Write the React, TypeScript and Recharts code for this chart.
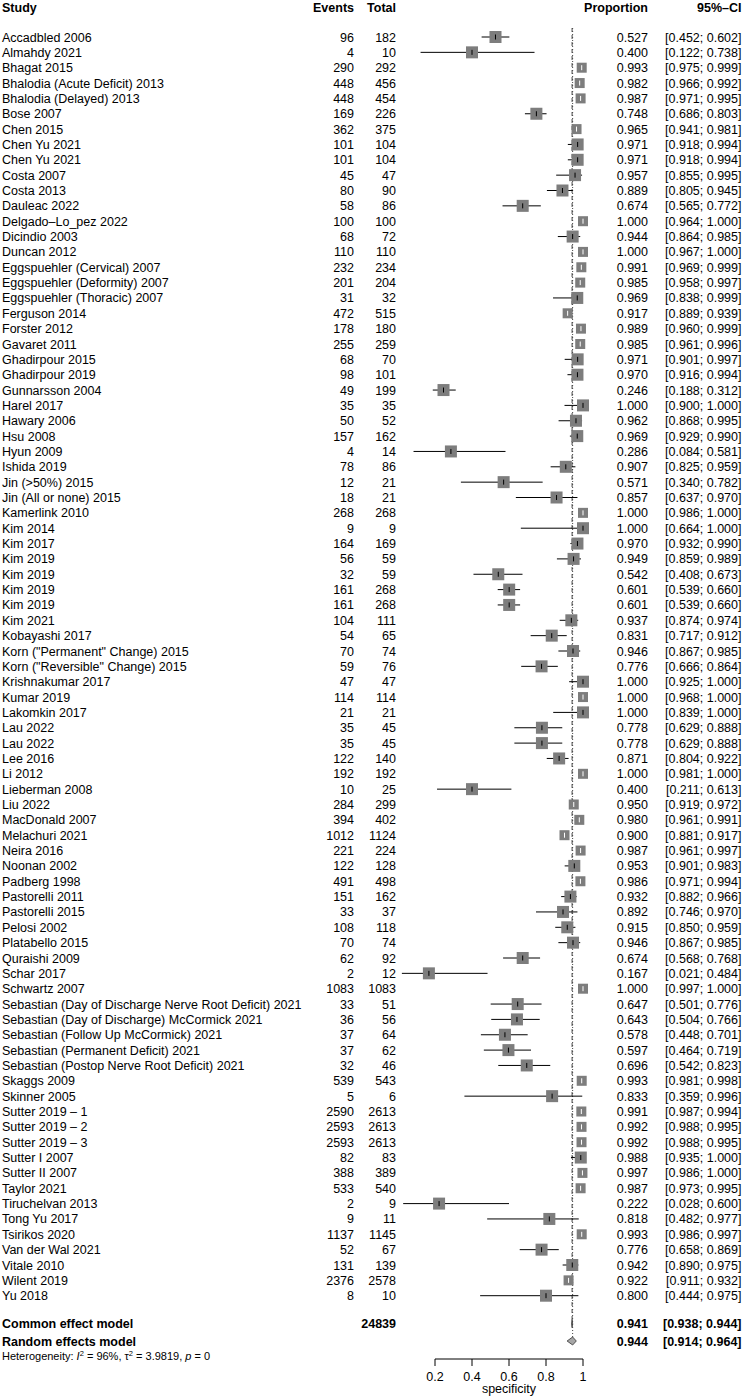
import React from 'react';
import { ComposedChart, Scatter, XAxis, YAxis, ErrorBar, ReferenceLine, Area } from 'recharts';

// ---------------- data ----------------
const studies: string[] = [
  'Accadbled 2006', 'Almahdy 2021', 'Bhagat 2015', 'Bhalodia (Acute Deficit) 2013', 'Bhalodia (Delayed) 2013',
  'Bose 2007', 'Chen 2015', 'Chen Yu 2021', 'Chen Yu 2021', 'Costa 2007',
  'Costa 2013', 'Dauleac 2022', 'Delgado–Lo_pez 2022', 'Dicindio 2003', 'Duncan 2012',
  'Eggspuehler (Cervical) 2007', 'Eggspuehler (Deformity) 2007', 'Eggspuehler (Thoracic) 2007', 'Ferguson 2014', 'Forster 2012',
  'Gavaret 2011', 'Ghadirpour 2015', 'Ghadirpour 2019', 'Gunnarsson 2004', 'Harel 2017',
  'Hawary 2006', 'Hsu 2008', 'Hyun 2009', 'Ishida 2019', 'Jin (>50%) 2015',
  'Jin (All or none) 2015', 'Kamerlink 2010', 'Kim 2014', 'Kim 2017', 'Kim 2019',
  'Kim 2019', 'Kim 2019', 'Kim 2019', 'Kim 2021', 'Kobayashi 2017',
  'Korn ("Permanent" Change) 2015', 'Korn ("Reversible" Change) 2015', 'Krishnakumar 2017', 'Kumar 2019', 'Lakomkin 2017',
  'Lau 2022', 'Lau 2022', 'Lee 2016', 'Li 2012', 'Lieberman 2008',
  'Liu 2022', 'MacDonald 2007', 'Melachuri 2021', 'Neira 2016', 'Noonan 2002',
  'Padberg 1998', 'Pastorelli 2011', 'Pastorelli 2015', 'Pelosi 2002', 'Platabello 2015',
  'Quraishi 2009', 'Schar 2017', 'Schwartz 2007', 'Sebastian (Day of Discharge Nerve Root Deficit) 2021', 'Sebastian (Day of Discharge) McCormick 2021',
  'Sebastian (Follow Up McCormick) 2021', 'Sebastian (Permanent Deficit) 2021', 'Sebastian (Postop Nerve Root Deficit) 2021', 'Skaggs 2009', 'Skinner 2005',
  'Sutter 2019 – 1', 'Sutter 2019 – 2', 'Sutter 2019 – 3', 'Sutter I 2007', 'Sutter II 2007',
  'Taylor 2021', 'Tiruchelvan 2013', 'Tong Yu 2017', 'Tsirikos 2020', 'Van der Wal 2021',
  'Vitale 2010', 'Wilent 2019', 'Yu 2018',
];

const events: number[] = [
  96, 4, 290, 448, 448, 169, 362, 101, 101, 45,
  80, 58, 100, 68, 110, 232, 201, 31, 472, 178,
  255, 68, 98, 49, 35, 50, 157, 4, 78, 12,
  18, 268, 9, 164, 56, 32, 161, 161, 104, 54,
  70, 59, 47, 114, 21, 35, 35, 122, 192, 10,
  284, 394, 1012, 221, 122, 491, 151, 33, 108, 70,
  62, 2, 1083, 33, 36, 37, 37, 32, 539, 5,
  2590, 2593, 2593, 82, 388, 533, 2, 9, 1137, 52,
  131, 2376, 8,
];

const totals: number[] = [
  182, 10, 292, 456, 454, 226, 375, 104, 104, 47,
  90, 86, 100, 72, 110, 234, 204, 32, 515, 180,
  259, 70, 101, 199, 35, 52, 162, 14, 86, 21,
  21, 268, 9, 169, 59, 59, 268, 268, 111, 65,
  74, 76, 47, 114, 21, 45, 45, 140, 192, 25,
  299, 402, 1124, 224, 128, 498, 162, 37, 118, 74,
  92, 12, 1083, 51, 56, 64, 62, 46, 543, 6,
  2613, 2613, 2613, 83, 389, 540, 9, 11, 1145, 67,
  139, 2578, 10,
];

const proportions: number[] = [
  0.527, 0.400, 0.993, 0.982, 0.987, 0.748, 0.965, 0.971, 0.971, 0.957,
  0.889, 0.674, 1.000, 0.944, 1.000, 0.991, 0.985, 0.969, 0.917, 0.989,
  0.985, 0.971, 0.970, 0.246, 1.000, 0.962, 0.969, 0.286, 0.907, 0.571,
  0.857, 1.000, 1.000, 0.970, 0.949, 0.542, 0.601, 0.601, 0.937, 0.831,
  0.946, 0.776, 1.000, 1.000, 1.000, 0.778, 0.778, 0.871, 1.000, 0.400,
  0.950, 0.980, 0.900, 0.987, 0.953, 0.986, 0.932, 0.892, 0.915, 0.946,
  0.674, 0.167, 1.000, 0.647, 0.643, 0.578, 0.597, 0.696, 0.993, 0.833,
  0.991, 0.992, 0.992, 0.988, 0.997, 0.987, 0.222, 0.818, 0.993, 0.776,
  0.942, 0.922, 0.800,
];

const lowerCI: number[] = [
  0.452, 0.122, 0.975, 0.966, 0.971, 0.686, 0.941, 0.918, 0.918, 0.855,
  0.805, 0.565, 0.964, 0.864, 0.967, 0.969, 0.958, 0.838, 0.889, 0.960,
  0.961, 0.901, 0.916, 0.188, 0.900, 0.868, 0.929, 0.084, 0.825, 0.340,
  0.637, 0.986, 0.664, 0.932, 0.859, 0.408, 0.539, 0.539, 0.874, 0.717,
  0.867, 0.666, 0.925, 0.968, 0.839, 0.629, 0.629, 0.804, 0.981, 0.211,
  0.919, 0.961, 0.881, 0.961, 0.901, 0.971, 0.882, 0.746, 0.850, 0.867,
  0.568, 0.021, 0.997, 0.501, 0.504, 0.448, 0.464, 0.542, 0.981, 0.359,
  0.987, 0.988, 0.988, 0.935, 0.986, 0.973, 0.028, 0.482, 0.986, 0.658,
  0.890, 0.911, 0.444,
];

const upperCI: number[] = [
  0.602, 0.738, 0.999, 0.992, 0.995, 0.803, 0.981, 0.994, 0.994, 0.995,
  0.945, 0.772, 1.000, 0.985, 1.000, 0.999, 0.997, 0.999, 0.939, 0.999,
  0.996, 0.997, 0.994, 0.312, 1.000, 0.995, 0.990, 0.581, 0.959, 0.782,
  0.970, 1.000, 1.000, 0.990, 0.989, 0.673, 0.660, 0.660, 0.974, 0.912,
  0.985, 0.864, 1.000, 1.000, 1.000, 0.888, 0.888, 0.922, 1.000, 0.613,
  0.972, 0.991, 0.917, 0.997, 0.983, 0.994, 0.966, 0.970, 0.959, 0.985,
  0.768, 0.484, 1.000, 0.776, 0.766, 0.701, 0.719, 0.823, 0.998, 0.996,
  0.994, 0.995, 0.995, 1.000, 1.000, 0.995, 0.600, 0.977, 0.997, 0.869,
  0.975, 0.932, 0.975,
];

const commonModel = { est: 0.941, lo: 0.938, hi: 0.944 };
const randomModel = { est: 0.944, lo: 0.914, hi: 0.964 };
const totalParticipants = 24839;
const heterogeneity = { i2: '96%', tau2: '3.9819', p: '0' };
const xTicks: number[] = [0.2, 0.4, 0.6, 0.8, 1];
const xLabel = 'specificity';
const headers = { study: 'Study', events: 'Events', total: 'Total', prop: 'Proportion', ci: '95%–CI' };

// ---------------- layout ----------------
const W = 742;
const H = 1396;
const AXIS_H = 37;
const PLOT_H = H - AXIS_H;
const ROW_PX = 15.35;
const FIRST_ROW_PX = 37;
const PX_ZERO = 398;
const PX_PER_UNIT = 185;
const xDomain: [number, number] = [-PX_ZERO / PX_PER_UNIT, (W - PX_ZERO) / PX_PER_UNIT];
const yMin = -FIRST_ROW_PX / ROW_PX;
const yMax = yMin + PLOT_H / ROW_PX;
const rowAt = (px: number) => (px - FIRST_ROW_PX) / ROW_PX;

const HEADER_Y = rowAt(7);
const COMMON_Y = rowAt(1323.7);
const RANDOM_Y = rowAt(1341);
const HET_Y = rowAt(1356.5);
const LINE_TOP_Y = rowAt(28);
const DIAMOND_HALF = 0.26;

const COL = { study: 2, events: 354, total: 396, prop: 648, ci: 741.5 };
const FONT = '"Liberation Sans", Arial, Helvetica, sans-serif';
const FS = 12.5;
const SQUARE_FILL = '#7d7d7d';
const DIAMOND_FILL = '#a6a6a6';
const INSIDE_LIMIT = 0.054;

const fmt = (v: number) => v.toFixed(3);
const fmtCI = (lo: number, hi: number) => `[${fmt(lo)}; ${fmt(hi)}]`;

const studyData = studies.map((name, i) => ({
  x: proportions[i],
  y: i,
  err: [proportions[i] - lowerCI[i], upperCI[i] - proportions[i]],
  inside: upperCI[i] - lowerCI[i] < INSIDE_LIMIT,
}));
const outsideData = studyData.filter((d) => !d.inside);
const insideData = studyData.filter((d) => d.inside);

const diamond = (m: { est: number; lo: number; hi: number }, yc: number) => [
  { x: m.lo, band: [yc, yc] },
  { x: m.est, band: [yc - DIAMOND_HALF, yc + DIAMOND_HALF] },
  { x: m.hi, band: [yc, yc] },
];
const commonDiamond = diamond(commonModel, COMMON_Y);
const randomDiamond = diamond(randomModel, RANDOM_Y);

type LabelRow = { x: number; y: number; kind: 'header' | 'study' | 'common' | 'random' | 'het'; i?: number };
const labelRows: LabelRow[] = [
  { x: 0, y: HEADER_Y, kind: 'header' },
  ...studies.map((_, i) => ({ x: 0, y: i, kind: 'study' as const, i })),
  { x: 0, y: COMMON_Y, kind: 'common' },
  { x: 0, y: RANDOM_Y, kind: 'random' },
  { x: 0, y: HET_Y, kind: 'het' },
];

const T = (p: { x: number; y: number; anchor?: 'start' | 'end' | 'middle'; bold?: boolean; children: React.ReactNode; size?: number }) => (
  <text
    x={p.x}
    y={p.y}
    dy="0.36em"
    textAnchor={p.anchor || 'start'}
    fontFamily={FONT}
    fontSize={p.size || FS}
    fontWeight={p.bold ? 'bold' : 'normal'}
    fill="#000"
  >
    {p.children}
  </text>
);

function RowText(props: any) {
  const row: LabelRow = props.payload;
  const y = props.cy;
  if (!row || typeof y !== 'number') return <g />;
  if (row.kind === 'header') {
    return (
      <g>
        <T x={COL.study} y={y} bold>{headers.study}</T>
        <T x={COL.events} y={y} anchor="end" bold>{headers.events}</T>
        <T x={COL.total} y={y} anchor="end" bold>{headers.total}</T>
        <T x={COL.prop} y={y} anchor="end" bold>{headers.prop}</T>
        <T x={COL.ci} y={y} anchor="end" bold>{headers.ci}</T>
      </g>
    );
  }
  if (row.kind === 'study') {
    const i = row.i as number;
    return (
      <g>
        <T x={COL.study} y={y}>{studies[i]}</T>
        <T x={COL.events} y={y} anchor="end">{events[i]}</T>
        <T x={COL.total} y={y} anchor="end">{totals[i]}</T>
        <T x={COL.prop} y={y} anchor="end">{fmt(proportions[i])}</T>
        <T x={COL.ci} y={y} anchor="end">{fmtCI(lowerCI[i], upperCI[i])}</T>
      </g>
    );
  }
  if (row.kind === 'common') {
    return (
      <g>
        <T x={COL.study} y={y} bold>Common effect model</T>
        <T x={COL.total} y={y} anchor="end" bold>{totalParticipants}</T>
        <T x={COL.prop} y={y} anchor="end" bold>{fmt(commonModel.est)}</T>
        <T x={COL.ci} y={y} anchor="end" bold>{fmtCI(commonModel.lo, commonModel.hi)}</T>
      </g>
    );
  }
  if (row.kind === 'random') {
    return (
      <g>
        <T x={COL.study} y={y} bold>Random effects model</T>
        <T x={COL.prop} y={y} anchor="end" bold>{fmt(randomModel.est)}</T>
        <T x={COL.ci} y={y} anchor="end" bold>{fmtCI(randomModel.lo, randomModel.hi)}</T>
      </g>
    );
  }
  return (
    <text x={COL.study} y={y} dy="0.36em" fontFamily={FONT} fontSize={11} fill="#000">
      Heterogeneity: <tspan fontStyle="italic">I</tspan>
      <tspan dy={-4} fontSize={7.5}>2</tspan>
      <tspan dy={4}>{` = ${heterogeneity.i2}, τ`}</tspan>
      <tspan dy={-4} fontSize={7.5}>2</tspan>
      <tspan dy={4}>{` = ${heterogeneity.tau2}, `}</tspan>
      <tspan fontStyle="italic">p</tspan>
      <tspan>{` = ${heterogeneity.p}`}</tspan>
    </text>
  );
}

const SquareShape = (props: any) => {
  const { cx, cy, payload } = props;
  const s = payload.inside ? 10 : 12;
  return <rect x={cx - s / 2} y={cy - s / 2} width={s} height={s} fill={SQUARE_FILL} stroke="none" />;
};

const tickShape = (color: string) => (props: any) => {
  const { cx, cy } = props;
  return <line x1={cx} x2={cx} y1={cy - 2.5} y2={cy + 2.5} stroke={color} strokeWidth={1} />;
};

export default function App() {
  return (
    <div style={{ position: 'absolute', left: 0, top: 0, width: W, height: H, background: '#fff' }}>
      <ComposedChart width={W} height={H} margin={{ top: 0, right: 0, bottom: 0, left: 0 }}>
        <XAxis
          type="number"
          dataKey="x"
          domain={xDomain}
          ticks={xTicks}
          interval={0}
          height={AXIS_H}
          axisLine={false}
          tickLine={{ stroke: '#000' }}
          tickSize={7}
          tickMargin={6}
          tickFormatter={(v: number) => (v === 1 ? '1' : String(v))}
          tick={{ fill: '#000', fontSize: FS, fontFamily: FONT }}
        />
        <YAxis
          type="number"
          dataKey="y"
          domain={[yMin, yMax]}
          reversed
          hide
        />
        <ReferenceLine
          segment={[{ x: commonModel.est, y: LINE_TOP_Y }, { x: commonModel.est, y: COMMON_Y }]}
          stroke="#444"
          strokeDasharray="4 3"
          ifOverflow="visible"
        />
        <ReferenceLine
          segment={[{ x: randomModel.est, y: LINE_TOP_Y }, { x: randomModel.est, y: RANDOM_Y - DIAMOND_HALF }]}
          stroke="#444"
          strokeDasharray="1 2"
          ifOverflow="visible"
        />
        <ReferenceLine
          segment={[{ x: xTicks[0], y: yMax }, { x: xTicks[xTicks.length - 1], y: yMax }]}
          stroke="#000"
          ifOverflow="visible"
          label={{ value: xLabel, position: 'bottom', offset: 25, fill: '#000', fontSize: FS, fontFamily: FONT }}
        />
        <Scatter data={labelRows} shape={RowText} isAnimationActive={false} />
        <Scatter data={studyData} shape={SquareShape} isAnimationActive={false} />
        <Scatter data={outsideData} shape={tickShape('#000')} isAnimationActive={false}>
          <ErrorBar dataKey="err" direction="x" width={0} stroke="#000" strokeWidth={1} />
        </Scatter>
        <Scatter data={insideData} shape={tickShape('#fff')} isAnimationActive={false}>
          <ErrorBar dataKey="err" direction="x" width={0} stroke="#fff" strokeWidth={1} />
        </Scatter>
        <Area
          data={commonDiamond}
          dataKey="band"
          type="linear"
          stroke="#333"
          strokeWidth={0.8}
          fill={DIAMOND_FILL}
          fillOpacity={1}
          dot={false}
          activeDot={false}
          isAnimationActive={false}
        />
        <Area
          data={randomDiamond}
          dataKey="band"
          type="linear"
          stroke="#333"
          strokeWidth={0.8}
          fill={DIAMOND_FILL}
          fillOpacity={1}
          dot={false}
          activeDot={false}
          isAnimationActive={false}
        />
      </ComposedChart>
    </div>
  );
}
